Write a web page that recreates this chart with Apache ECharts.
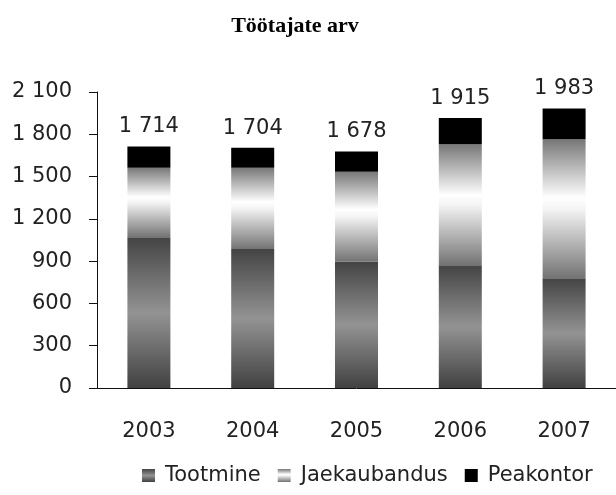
<!DOCTYPE html>
<html>
<head>
<meta charset="utf-8">
<style>
    html,body{margin:0;padding:0;background:#fff;}
    #myChart{width:616px;height:495px;}
</style>
<script src="https://cdn.jsdelivr.net/npm/echarts@6/dist/echarts.min.js"></script>
</head>
<body>
<div id="myChart"></div>
<script>
    // aastad ja väärtused (loetud pildilt)
    var years = ['2003', '2004', '2005', '2006', '2007'];
    var tootmine = [1069, 986, 896, 870, 778];
    var jaekaubandus = [494, 577, 639, 859, 986];
    var peakontor = [151, 141, 143, 186, 219];
    var totals = [1714, 1704, 1678, 1915, 1983];
    var yTicks = [0, 300, 600, 900, 1200, 1500, 1800, 2100];

    var font = 'DejaVu Sans';
    var textColor = '#222';

    function fmt(v){
        return String(v).replace(/\B(?=(\d{3})+(?!\d))/g, ' ');
    }
    function grad(stops){
        return new echarts.graphic.LinearGradient(0, 0, 0, 1, stops);
    }

    var myChart = echarts.init(document.getElementById('myChart'));
    var option = {
        backgroundColor: '#fff',
        animation: false,
        title: {
            text: 'Töötajate arv',
            left: 290,
            textAlign: 'center',
            top: 10,
            textStyle: {
                fontFamily: 'Liberation Serif',
                fontWeight: 'bold',
                fontSize: 22,
                color: '#000'
            }
        },
        legend: {
            left: 137,
            top: 460,
            itemWidth: 13,
            itemHeight: 13,
            itemGap: 17,
            icon: 'rect',
            data: ['Tootmine', 'Jaekaubandus', 'Peakontor'],
            textStyle: {fontFamily: font, fontSize: 21, color: textColor, padding: [0, 0, 0, 5]}
        },
        grid: {left: 97, top: 92, width: 541, height: 296},
        xAxis: {
            type: 'category',
            data: years,
            axisLine: {lineStyle: {color: '#111', width: 1}},
            axisTick: {show: false},
            axisLabel: {fontFamily: font, fontSize: 21, color: textColor, margin: 33},
            splitLine: {show: false}
        },
        yAxis: {
            type: 'value',
            min: yTicks[0],
            max: yTicks[yTicks.length - 1],
            interval: yTicks[1] - yTicks[0],
            axisLine: {show: true, lineStyle: {color: '#111', width: 1}},
            axisTick: {show: true, length: 8, lineStyle: {color: '#111'}},
            axisLabel: {fontFamily: font, fontSize: 21, color: textColor, margin: 25, formatter: fmt},
            splitLine: {show: false}
        },
        series: [
            {
                name: 'Tootmine',
                type: 'bar',
                stack: 'total',
                barWidth: 43,
                data: tootmine,
                itemStyle: {color: grad([
                    {offset: 0, color: '#444444'},
                    {offset: 0.5, color: '#939393'},
                    {offset: 1, color: '#414141'}
                ])}
            },
            {
                name: 'Jaekaubandus',
                type: 'bar',
                stack: 'total',
                data: jaekaubandus,
                itemStyle: {color: grad([
                    {offset: 0, color: '#777777'},
                    {offset: 0.42, color: '#ffffff'},
                    {offset: 0.5, color: '#f4f4f4'},
                    {offset: 1, color: '#737373'}
                ])}
            },
            {
                name: 'Peakontor',
                type: 'bar',
                stack: 'total',
                data: peakontor,
                itemStyle: {color: '#000'},
                label: {
                    show: true,
                    position: 'top',
                    distance: 9,
                    fontFamily: font,
                    fontSize: 21,
                    color: textColor,
                    formatter: function(p){ return fmt(totals[p.dataIndex]); }
                }
            }
        ]
    };
    myChart.setOption(option);
</script>
</body>
</html>
